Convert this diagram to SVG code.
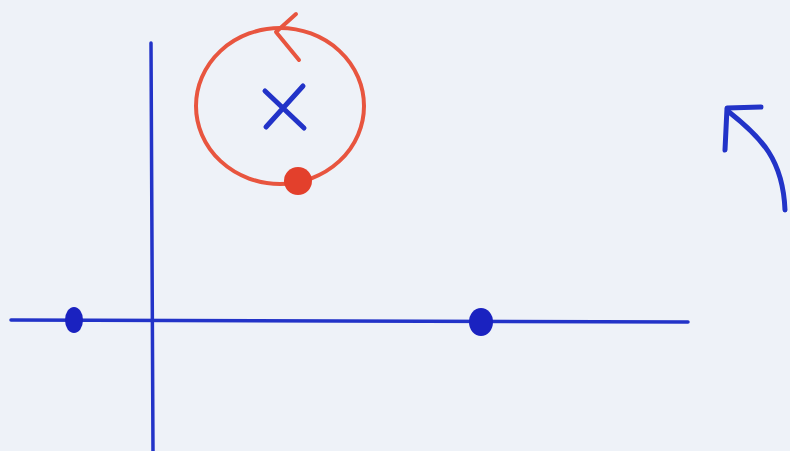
<svg xmlns="http://www.w3.org/2000/svg" width="790" height="451" viewBox="0 0 790 451">
<style>
.b{stroke:#2233c8;fill:none;stroke-linecap:round;stroke-linejoin:round}
.r{stroke:#e8553f;fill:none;stroke-linecap:round;stroke-linejoin:round}
</style>
<rect width="790" height="451" fill="#eef2f8"/>
<g id="axes">
<path class="b" stroke-width="3.5" d="M151 43 L153 451"/>
<path class="b" stroke-width="3.5" d="M11 320 L688 322"/>
<ellipse cx="74" cy="320" rx="9" ry="13" fill="#1a22c0"/>
<ellipse cx="481" cy="322" rx="12" ry="14" fill="#1a22c0"/>
</g>
<g id="orbit">
<ellipse class="r" stroke-width="4" cx="280" cy="106" rx="84" ry="78"/>
<path class="r" stroke-width="4" d="M296 14 L276 32 L299 60"/>
<circle cx="298" cy="181" r="14" fill="#e3402c"/>
<path class="b" stroke-width="5" d="M265 91 L304 128 M303 86 L266 127"/>
</g>
<g id="rotation">
<path class="b" stroke-width="5" d="M785 210 C783 160 762 138 729 112"/>
<path class="b" stroke-width="5" d="M761 107 L727 108 L725 150"/>
</g>
</svg>
